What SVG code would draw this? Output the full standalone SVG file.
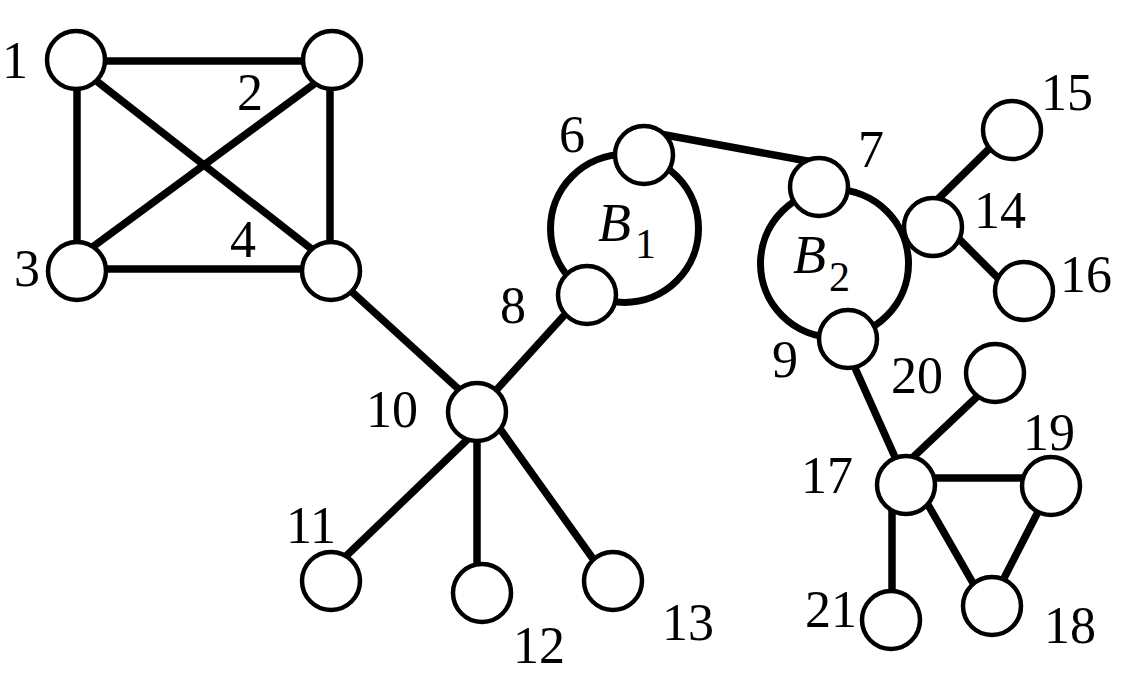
<svg xmlns="http://www.w3.org/2000/svg" width="1126" height="682" viewBox="0 0 1126 682">
<style>
.e{stroke:#000;stroke-width:7.5;fill:none}
.n{fill:#fff;stroke:#000;stroke-width:4.5}
.b{fill:none;stroke:#000;stroke-width:7}
text{font-family:'Liberation Serif','DejaVu Serif',serif;fill:#000}
.t{font-size:52px;text-anchor:middle}
.bl{font-size:54px;font-style:italic}
.sb{font-size:42px}
</style>
<rect width="1126" height="682" fill="#fff"/>
<g id="connectors">
<line class="e" x1="76" y1="61" x2="332" y2="61"/>
<line class="e" x1="77" y1="60" x2="77" y2="271"/>
<line class="e" x1="330" y1="60" x2="330" y2="271"/>
<line class="e" x1="77" y1="269" x2="331" y2="269"/>
<line class="e" x1="85" y1="72" x2="323" y2="258"/>
<line class="e" x1="325" y1="76" x2="83" y2="254"/>
<line class="e" x1="340" y1="281" x2="465" y2="395"/>
<line class="e" x1="570" y1="309" x2="490" y2="397"/>
<line class="e" x1="660" y1="134" x2="810" y2="161.5"/>
<line class="e" x1="851" y1="359" x2="899" y2="466"/>
<line class="e" x1="935" y1="202" x2="993" y2="145"/>
<line class="e" x1="955" y1="235" x2="1005" y2="285"/>
<line class="e" x1="470" y1="437" x2="342" y2="560"/>
<line class="e" x1="477" y1="440" x2="477" y2="565"/>
<line class="e" x1="498" y1="426" x2="596" y2="563"/>
<line class="e" x1="908" y1="462" x2="982" y2="392"/>
<line class="e" x1="935" y1="478" x2="1025" y2="478"/>
<line class="e" x1="923" y1="496" x2="977" y2="590"/>
<line class="e" x1="1042" y1="504" x2="999" y2="588"/>
<line class="e" x1="892" y1="507" x2="892" y2="592"/>
</g>
<g id="B1">
<circle class="b" cx="624.5" cy="228.5" r="74"/>
<text class="bl" x="598" y="241">B</text><text class="sb" x="635" y="258">1</text>
</g>
<g id="B2">
<circle class="b" cx="834.5" cy="263.5" r="74"/>
<text class="bl" x="793" y="273">B</text><text class="sb" x="829" y="291">2</text>
</g>
<g id="n1"><circle class="n" cx="76" cy="60" r="29"/><text class="t" x="15" y="78">1</text></g>
<g id="n2"><circle class="n" cx="332" cy="60" r="29"/><text class="t" x="250" y="110">2</text></g>
<g id="n3"><circle class="n" cx="77" cy="271" r="29"/><text class="t" x="27" y="286">3</text></g>
<g id="n4"><circle class="n" cx="331" cy="271" r="29"/><text class="t" x="243" y="257">4</text></g>
<g id="n6"><circle class="n" cx="644" cy="155" r="29"/><text class="t" x="572" y="152">6</text></g>
<g id="n7"><circle class="n" cx="819" cy="187" r="29"/><text class="t" x="871" y="167">7</text></g>
<g id="n8"><circle class="n" cx="587" cy="295" r="29"/><text class="t" x="513" y="323">8</text></g>
<g id="n9"><circle class="n" cx="848" cy="339" r="29"/><text class="t" x="785" y="377">9</text></g>
<g id="n10"><circle class="n" cx="477" cy="412" r="29"/><text class="t" x="392" y="427">10</text></g>
<g id="n11"><circle class="n" cx="331" cy="581" r="29"/><text class="t" x="311" y="543">11</text></g>
<g id="n12"><circle class="n" cx="482" cy="593" r="29"/><text class="t" x="539" y="663">12</text></g>
<g id="n13"><circle class="n" cx="613" cy="581" r="29"/><text class="t" x="688" y="640">13</text></g>
<g id="n14"><circle class="n" cx="933" cy="227" r="29"/><text class="t" x="1000" y="228">14</text></g>
<g id="n15"><circle class="n" cx="1012" cy="130" r="29"/><text class="t" x="1067" y="110">15</text></g>
<g id="n16"><circle class="n" cx="1024" cy="291" r="29"/><text class="t" x="1086" y="292">16</text></g>
<g id="n17"><circle class="n" cx="906" cy="485" r="29"/><text class="t" x="827" y="493">17</text></g>
<g id="n18"><circle class="n" cx="992" cy="606" r="29"/><text class="t" x="1070" y="643">18</text></g>
<g id="n19"><circle class="n" cx="1051" cy="486" r="29"/><text class="t" x="1049" y="450">19</text></g>
<g id="n20"><circle class="n" cx="995" cy="373" r="29"/><text class="t" x="917" y="393">20</text></g>
<g id="n21"><circle class="n" cx="891" cy="620" r="29"/><text class="t" x="831" y="627">21</text></g>
</svg>
